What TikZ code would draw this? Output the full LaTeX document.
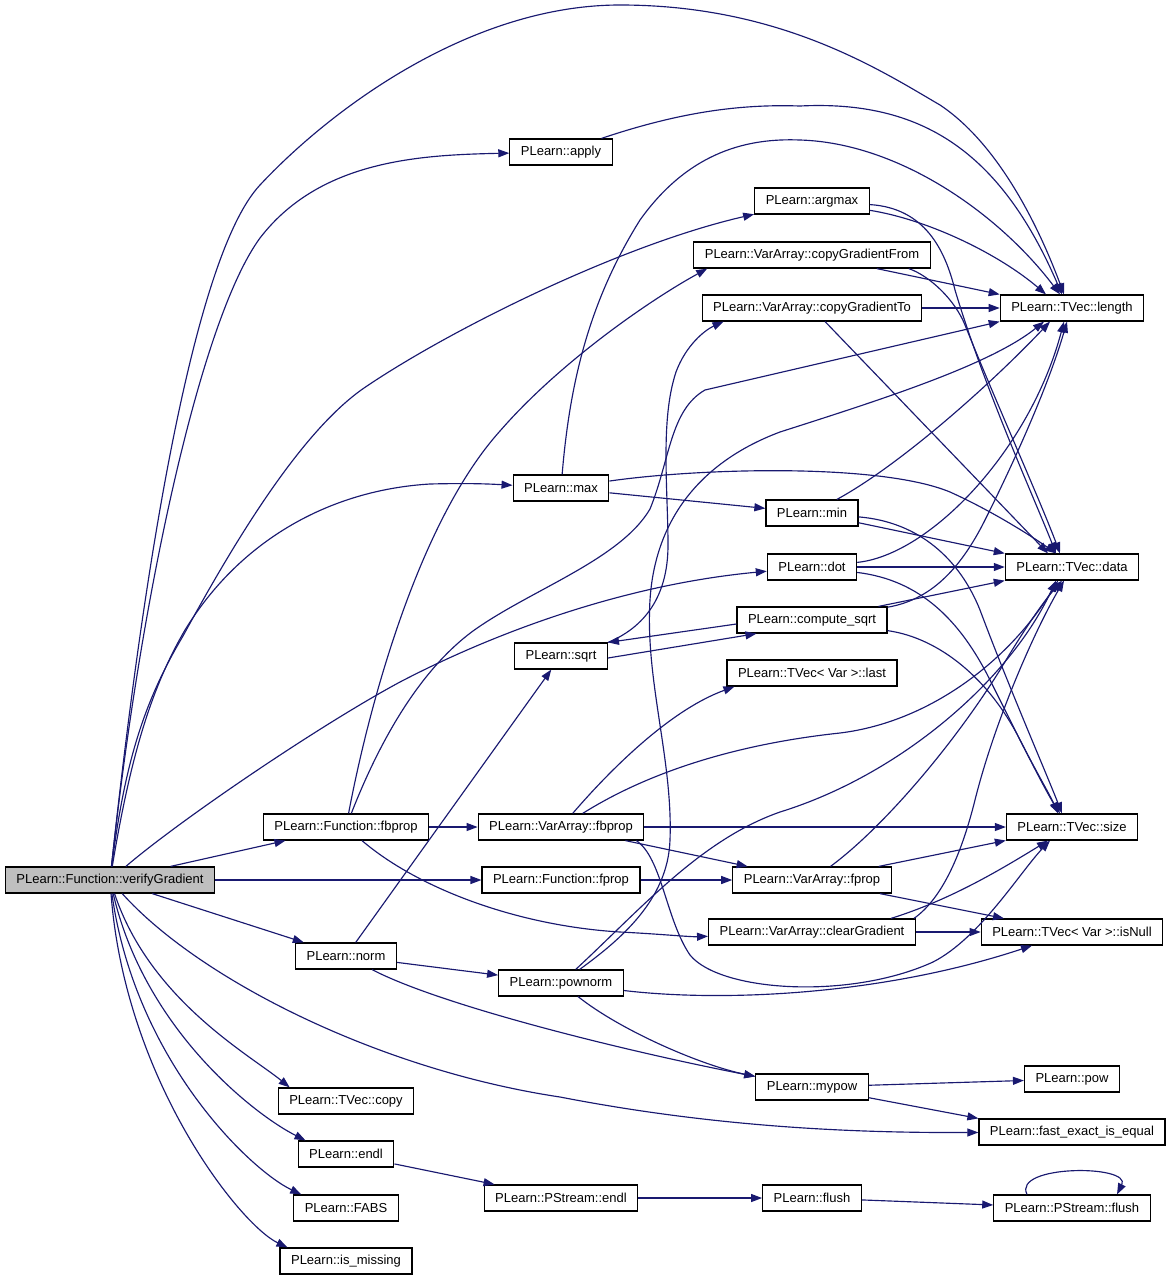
\documentclass[tikz,border=0pt]{standalone}
\usepackage{fontspec}
\setmainfont{Liberation Sans}
\usetikzlibrary{arrows.meta}
\definecolor{callblue}{RGB}{25,25,112}
\begin{document}
\begin{tikzpicture}[x=1pt,y=-1pt]
    \tikzstyle{fn}=[draw=black, line width=1.2pt, fill=white, minimum height=26pt, inner xsep=11pt, inner ysep=0pt, font=\fontsize{13}{15}\selectfont]
    \tikzstyle{call}=[draw=callblue, line width=1.15pt, -{Triangle[length=11pt,width=8pt]}]
    \useasboundingbox (0,0) rectangle (1171,1283);
    \node[fn, fill=gray!50] (vg) at (110,880) {PLearn::Function::verifyGradient};
    \node[fn] (apply) at (561,152) {PLearn::apply};
    \node[fn] (argmax) at (812,201) {PLearn::argmax};
    \node[fn] (cgf) at (812,255) {PLearn::VarArray::copyGradientFrom};
    \node[fn] (cgt) at (812,308) {PLearn::VarArray::copyGradientTo};
    \node[fn] (len) at (1072,308) {PLearn::TVec::length};
    \node[fn] (mx) at (561,488) {PLearn::max};
    \node[fn] (mn) at (812,513) {PLearn::min};
    \node[fn] (dot) at (812,567) {PLearn::dot};
    \node[fn] (dat) at (1072,567) {PLearn::TVec::data};
    \node[fn] (csq) at (812,620) {PLearn::compute\_sqrt};
    \node[fn] (sq) at (561,656) {PLearn::sqrt};
    \node[fn] (last) at (812,673) {PLearn::TVec< Var >::last};
    \node[fn] (ffb) at (346,827) {PLearn::Function::fbprop};
    \node[fn] (vfb) at (561,827) {PLearn::VarArray::fbprop};
    \node[fn] (sz) at (1072,827) {PLearn::TVec::size};
    \node[fn] (ffp) at (561,880) {PLearn::Function::fprop};
    \node[fn] (vfp) at (812,880) {PLearn::VarArray::fprop};
    \node[fn] (clr) at (812,932) {PLearn::VarArray::clearGradient};
    \node[fn] (isn) at (1072,932) {PLearn::TVec< Var >::isNull};
    \node[fn] (nrm) at (346,956) {PLearn::norm};
    \node[fn] (pnrm) at (561,983) {PLearn::pownorm};
    \node[fn] (mypow) at (812,1087) {PLearn::mypow};
    \node[fn] (pw) at (1072,1079) {PLearn::pow};
    \node[fn] (cpy) at (346,1101) {PLearn::TVec::copy};
    \node[fn] (feq) at (1072,1132) {PLearn::fast\_exact\_is\_equal};
    \node[fn] (endl) at (346,1154) {PLearn::endl};
    \node[fn] (psendl) at (561,1198) {PLearn::PStream::endl};
    \node[fn] (flush) at (812,1198) {PLearn::flush};
    \node[fn] (psflush) at (1072,1208) {PLearn::PStream::flush};
    \node[fn] (fabs) at (346,1208) {PLearn::FABS};
    \node[fn] (ismiss) at (346,1261) {PLearn::is\_missing};
    % verifyGradient
    \draw[call] (vg) .. controls (140,600) and (190,260) .. (260,185) .. controls (330,110) and (470,5) .. (620,5) .. controls (780,5) and (880,70) .. (940,105) .. controls (1000,145) and (1040,230) .. ([xshift=-8pt]len.north);
    \draw[call] (vg) .. controls (140,600) and (200,320) .. (260,238) .. controls (320,160) and (420,155) .. (apply);
    \draw[call] (vg) .. controls (125,760) and (145,700) .. (183,636) .. controls (230,550) and (300,430) .. (367,386) .. controls (450,330) and (620,245) .. (argmax);
    \draw[call] (vg) .. controls (130,760) and (150,690) .. (185,630) .. controls (240,540) and (330,490) .. (430,484) .. controls (470,483) and (490,484) .. (mx);
    \draw[call] (vg) .. controls (180,820) and (320,725) .. (400,682) .. controls (490,635) and (620,585) .. (dot);
    \draw[call] (vg) -- (ffb);
    \draw[call] (vg) -- (ffp);
    \draw[call] (vg) -- (nrm);
    \draw[call] (vg) .. controls (200,980) and (380,1070) .. (560,1097) .. controls (720,1128) and (860,1133) .. (feq);
    \draw[call] (vg) .. controls (150,1000) and (250,1055) .. ([xshift=12pt]cpy.north west);
    \draw[call] (vg) .. controls (145,1030) and (255,1115) .. ([xshift=8pt]endl.north west);
    \draw[call] (vg) .. controls (135,1060) and (250,1170) .. ([xshift=8pt]fabs.north west);
    \draw[call] (vg) .. controls (125,1080) and (240,1225) .. ([xshift=8pt]ismiss.north west);
    % Function::fbprop
    \draw[call] (ffb) .. controls (370,700) and (420,520) .. (500,431) .. controls (560,362) and (650,300) .. ([xshift=14pt]cgf.south west);
    \draw[call] (ffb) .. controls (380,740) and (420,670) .. (473,631) .. controls (530,590) and (620,560) .. (650,509) .. controls (670,460) and (670,410) .. (705,390) -- (len.south west);
    \draw[call] (ffb) -- (vfb);
    \draw[call] (ffb) .. controls (420,890) and (520,926) .. (620,932) .. controls (660,934) and (690,937) .. (clr);
    \draw[call] (apply) .. controls (680,112) and (740,104) .. (800,106) .. controls (920,100) and (1000,150) .. ([xshift=-10pt]len.north);
    \draw[call] (mx) .. controls (570,380) and (590,300) .. (640,220) .. controls (690,150) and (750,138) .. (800,140) .. controls (900,143) and (1000,215) .. ([xshift=-12pt]len.north);
    \draw[call] (mx) .. controls (700,468) and (880,463) .. (950,492) .. controls (990,510) and (1030,535) .. ([xshift=-16pt]dat.north);
    \draw[call] (mx) -- (mn);
    \draw[call] (argmax) .. controls (930,220) and (1000,255) .. ([xshift=-26pt]len.north);
    \draw[call] (argmax) .. controls (925,208) and (945,250) .. (955,290) .. controls (985,390) and (1035,500) .. ([xshift=-16pt]dat.north);
    \draw[call] (cgf) -- (len.north west);
    \draw[call] ([xshift=-22pt]cgf.south east) .. controls (930,276) and (955,300) .. (965,325) .. controls (995,400) and (1040,500) .. ([xshift=-12pt]dat.north);
    \draw[call] (cgt) -- (len);
    \draw[call] (cgt) -- ([xshift=-24pt]dat.north);
    \draw[call] (mn) .. controls (900,465) and (990,385) .. ([xshift=-22pt]len.south);
    \draw[call] (mn) -- (dat.north west);
    \draw[call] (mn) .. controls (920,522) and (960,560) .. (980,610) .. controls (1010,690) and (1045,770) .. ([xshift=-10pt]sz.north);
    \draw[call] (dot) .. controls (930,555) and (1030,450) .. ([xshift=-8pt]len.south);
    \draw[call] (dot) -- (dat);
    \draw[call] (dot) .. controls (920,580) and (960,620) .. (990,680) .. controls (1020,740) and (1045,790) .. ([xshift=-12pt]sz.north);
    \draw[call] (csq) .. controls (930,600) and (960,570) .. (985,520) .. controls (1020,450) and (1050,380) .. ([xshift=-5pt]len.south);
    \draw[call] (csq) -- (dat.south west);
    \draw[call] (csq) .. controls (940,638) and (990,680) .. (1020,740) .. controls (1038,775) and (1050,795) .. ([xshift=-14pt]sz.north);
    \draw[call] ([yshift=-4pt]csq.west) -- (sq.north east);
    \draw[call] ([yshift=-2pt]sq.east) -- ([xshift=20pt]csq.south west);
    \draw[call] (sq.north east) .. controls (650,625) and (668,590) .. (668,545) .. controls (668,490) and (660,420) .. (676,372) .. controls (686,345) and (705,330) .. ([xshift=22pt]cgt.south west);
    \draw[call] (nrm) -- (sq);
    \draw[call] (nrm) -- (pnrm);
    \draw[call] (nrm) .. controls (440,1005) and (620,1050) .. ([yshift=-3pt]mypow.north west);
    % VarArray::fbprop
    \draw[call] (vfb) .. controls (610,770) and (670,710) .. ([xshift=8pt]last.south west);
    \draw[call] (vfb) .. controls (620,790) and (700,748) .. (840,733) .. controls (930,722) and (1010,660) .. ([xshift=-14pt]dat.south);
    \draw[call] (vfb) -- (sz);
    \draw[call] (vfb) -- (vfp);
    \draw[call] ([xshift=-8pt]vfb.south east) .. controls (662,858) and (666,920) .. (690,955) .. controls (720,992) and (850,1000) .. (933,962) .. controls (980,938) and (1020,872) .. ([xshift=-22pt]sz.south);
    \draw[call] (ffp) -- (vfp);
    \draw[call] (vfp) .. controls (880,830) and (950,750) .. (1000,670) .. controls (1030,620) and (1045,600) .. ([xshift=-10pt]dat.south);
    \draw[call] (vfp) -- (sz);
    \draw[call] (vfp) -- (isn);
    \draw[call] ([xshift=-25pt]clr.north east) .. controls (950,900) and (1000,870) .. ([xshift=-24pt]sz.south);
    \draw[call] ([xshift=-2pt]clr.north east) .. controls (940,900) and (960,860) .. (975,800) .. controls (995,720) and (1035,630) .. ([xshift=-8pt]dat.south);
    \draw[call] (clr) -- (isn);
    % pownorm
    \draw[call] (pnrm) .. controls (620,940) and (668,900) .. (670,840) .. controls (673,760) and (645,680) .. (650,600) .. controls (655,520) and (700,462) .. (780,432) .. controls (880,400) and (990,365) .. ([xshift=-28pt]len.south);
    \draw[call] (pnrm) .. controls (640,910) and (700,840) .. (780,812) .. controls (900,775) and (1010,680) .. ([xshift=-16pt]dat.south);
    \draw[call] (pnrm) .. controls (720,1002) and (880,996) .. ([xshift=-40pt]isn.south);
    \draw[call] (pnrm) .. controls (620,1030) and (700,1065) .. ([yshift=-3pt]mypow.north west);
    \draw[call] (mypow) -- (pw);
    \draw[call] (mypow) -- (feq.north west);
    \draw[call] (endl) -- (psendl);
    \draw[call] (psendl) -- (flush);
    \draw[call] (flush) -- (psflush);
    \draw[call] ([xshift=-45pt]psflush.north) .. controls ([xshift=-60pt,yshift=30pt]psflush.north) and ([xshift=60pt,yshift=30pt]psflush.north) .. ([xshift=45pt]psflush.north);
\end{tikzpicture}
\end{document}
